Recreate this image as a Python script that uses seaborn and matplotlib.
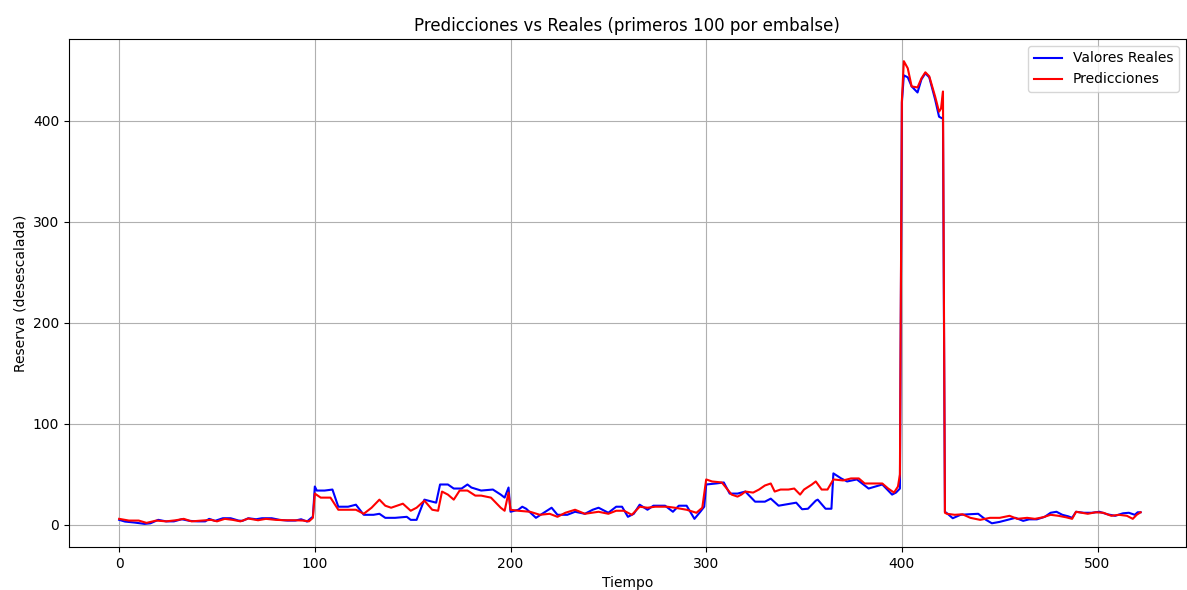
import matplotlib
matplotlib.use('Agg')
import matplotlib.pyplot as plt
import seaborn as sns
import pandas as pd

# Valores reales (tiempo, reserva)
t_real = [0, 3, 8, 13, 16, 20, 24, 28, 32, 36, 40, 44, 46, 49, 53, 57, 61, 63, 66, 70, 73, 78, 82, 86, 90, 93, 96, 98, 99,
          100, 101, 105, 109, 112, 117, 121, 125, 130, 133, 136, 141, 147, 149, 152, 156, 162, 164, 168, 171, 175, 178, 180, 185, 191, 195, 197, 199,
          200, 204, 206, 208, 213, 217, 221, 224, 229, 233, 238, 242, 245, 250, 254, 257, 260, 263, 266, 270, 273, 279, 283, 286, 290, 294, 297, 299,
          300, 305, 309, 312, 316, 320, 325, 330, 333, 337, 343, 346, 349, 352, 356, 357, 361, 364, 365, 369, 372, 377, 383, 390, 395, 397, 399,
          400, 401, 403, 405, 408, 410, 412, 414, 417, 419, 421,
          422, 423, 426, 430, 434, 439, 443, 446, 450, 454, 458, 462, 465, 469, 473, 476, 479, 482, 485, 487, 489, 493, 497, 501, 505, 509, 513, 516, 519, 520.5, 522]
v_real = [5, 3.3, 2.3, 1, 1.6, 5, 3.5, 3.5, 5.6, 4, 3.5, 3.5, 6, 4, 6.6, 6.6, 4.3, 4, 6.6, 5.6, 6.6, 6.6, 5, 4.3, 4.3, 5.6, 3.3, 6.6, 8,
          38, 34, 34, 35, 18, 18, 20, 10, 10, 11, 7, 7, 8, 5, 5, 25, 22, 40, 40, 36, 36, 40, 37, 34, 35, 30, 27, 37,
          13, 15, 18, 16, 7, 12, 17, 10, 10, 13, 11, 15, 17, 12, 18, 18, 8, 11, 20, 15, 19, 19, 13, 19, 19, 6, 13, 18,
          40, 41, 42, 31, 31, 33, 23, 23, 26, 19, 21, 22, 15.5, 16, 24, 25, 16, 16, 51, 46, 43, 45, 36, 40, 30, 32, 36,
          418, 445, 443, 434, 428, 441, 447, 443, 421, 404, 402,
          13, 11.6, 6.6, 10, 10.5, 11, 5, 1.6, 3, 5, 7, 4, 5.5, 5.5, 8, 12, 13, 10, 8.5, 7, 13, 12, 12, 13, 10.5, 9, 11.5, 12, 10, 12.5, 12.5]

# Predicciones (tiempo, reserva)
t_pred = [0, 5, 10, 14, 19, 24, 29, 33, 37, 42, 47, 50, 54, 58, 62, 66, 71, 75, 80, 85, 90, 94, 97, 99,
          100, 103, 108, 112, 121, 125, 129, 133, 136, 139, 145, 149, 152, 156, 160, 163, 165, 168, 171, 174, 178, 182, 185, 190, 195, 197, 199,
          200, 204, 210, 215, 220, 224, 228, 233, 238, 245, 250, 254, 258, 262, 266, 270, 274, 280, 284, 290, 295, 298,
          300, 303, 308, 313, 316, 318, 320, 324, 327, 330, 333, 335, 338, 342, 345, 348, 350, 354, 356, 359, 362, 365, 370, 374, 378, 381, 385, 390, 393, 396, 398, 399,
          400, 401, 403, 405, 408, 410, 412, 414, 417, 419, 420, 421,
          422, 423, 427, 431, 435, 440, 445, 450, 455, 459, 464, 468, 472, 476, 480, 484, 487, 489, 492, 495, 499, 503, 507, 511, 515, 518, 520, 522]
v_pred = [6, 4.3, 4.3, 2, 4.3, 3.5, 4.6, 6, 3.5, 4.3, 5, 3.5, 6, 5, 3.5, 6.3, 4.6, 6, 5, 4.6, 4.6, 4.3, 3.5, 7,
          31, 27, 27, 15, 15, 11, 17, 25, 19, 17, 21, 14, 17, 24, 15, 14, 33, 30, 25, 34, 34, 29, 29, 27, 17, 14, 32,
          15, 14, 13, 10, 11, 8, 12, 15, 11, 13, 11, 14, 14, 10, 18, 17, 18, 18, 17, 15, 12, 17,
          45, 43, 42, 30, 28, 30, 33, 32, 35, 39, 41, 33, 35, 35, 36, 30, 35, 40, 43, 35, 35, 45, 44, 46, 46, 41, 41, 41, 36, 32, 38, 50,
          420, 459, 452, 434, 433, 442, 448, 444, 424, 409, 412, 429,
          12, 11, 10, 10.5, 7, 5, 7, 7, 9, 6, 7, 6, 7.5, 10, 9, 7.5, 6, 13, 12, 11, 12.5, 12, 9, 10, 9, 6, 10, 12.5]

df_real = pd.DataFrame({'Tiempo': t_real, 'Reserva': v_real})
df_pred = pd.DataFrame({'Tiempo': t_pred, 'Reserva': v_pred})

fig, ax = plt.subplots(figsize=(11.87, 5.9), dpi=100)
sns.lineplot(data=df_real, x='Tiempo', y='Reserva', color='blue', label='Valores Reales', estimator=None, ax=ax)
sns.lineplot(data=df_pred, x='Tiempo', y='Reserva', color='red', label='Predicciones', estimator=None, ax=ax)

ax.set_title('Predicciones vs Reales (primeros 100 por embalse)')
ax.set_xlabel('Tiempo')
ax.set_ylabel('Reserva (desescalada)')
ax.set_xlim(-25.7, 545.1)
ax.set_ylim(-21.8, 481)
ax.legend(loc='upper right')
ax.grid(True)

plt.subplots_adjust(left=0.058, right=0.999, top=0.934, bottom=0.073)
plt.savefig('out.png')
